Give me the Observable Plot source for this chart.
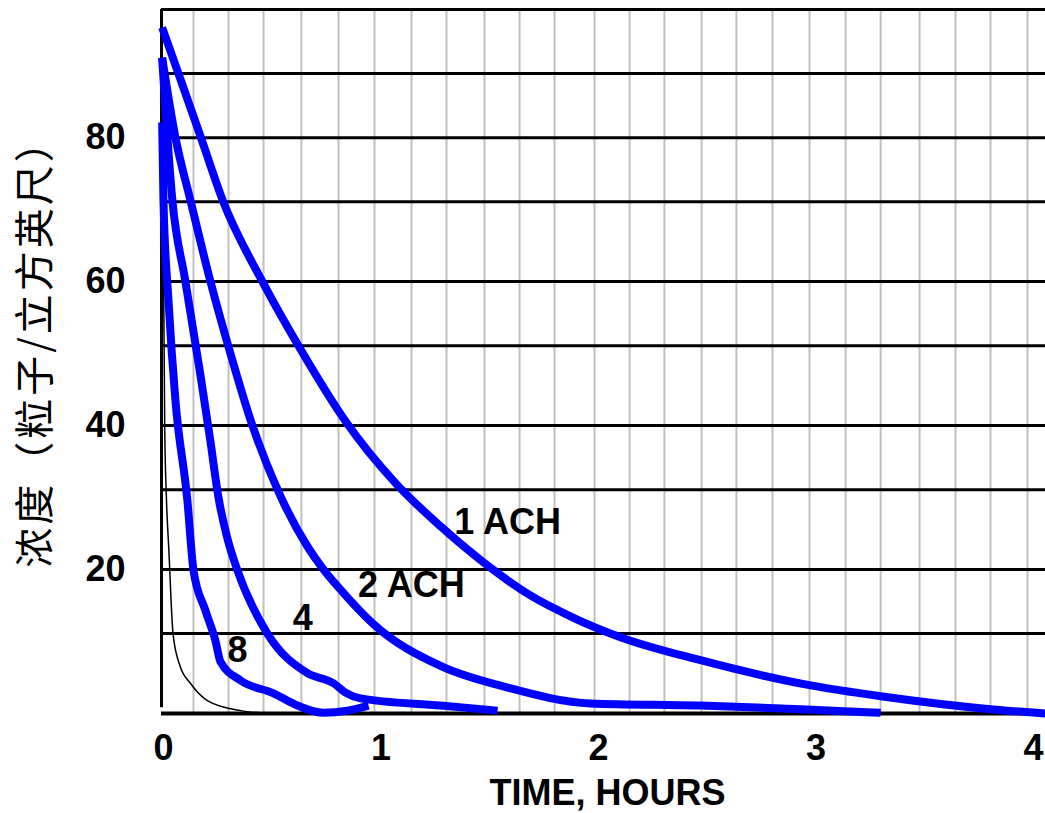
<!DOCTYPE html>
<html>
<head>
<meta charset="utf-8">
<script src="https://cdn.jsdelivr.net/npm/d3@7"></script>
<script src="https://cdn.jsdelivr.net/npm/@observablehq/plot@0.6"></script>
<style>
  html, body { margin: 0; padding: 0; background: #fff; }
</style>
</head>
<body>
<div id="chart"></div>
<script>
// ---- data (hours, particles per cubic foot) ----
const xTicks = [0, 1, 2, 3, 4];
const yTicks = [20, 40, 60, 80];
const hGrid = [11.1, 20, 31.1, 40, 51.1, 60, 71.1, 80, 88.9, 97.8];
const vGrid = [0.138, 0.299, 0.460, 0.634, 0.805, 0.970, 1.140, 1.301, 1.476, 1.637, 1.798, 1.982,
               2.143, 2.303, 2.474, 2.634, 2.800, 2.970, 3.136, 3.297, 3.476, 3.641, 3.802, 3.972];

const ach1X = [-0.006, 0.069, 0.170, 0.276, 0.455, 0.630, 0.837, 1.067, 1.274, 1.467, 1.687, 1.885, 2.101, 2.469, 2.975, 3.297, 3.802, 4.055];
const ach1Y = [95.3, 88.9, 80.2, 71.0, 60.0, 50.6, 40.6, 32.0, 26.0, 21.1, 16.4, 13.3, 10.6, 7.4, 3.9, 2.4, 0.6, 0.0];

const ach2X = [-0.006, 0.055, 0.124, 0.216, 0.308, 0.409, 0.538, 0.662, 0.731, 0.814, 0.966, 1.274, 1.582, 1.963, 2.469, 2.929, 3.297];
const ach2Y = [91.1, 80.0, 71.3, 60.0, 50.0, 40.0, 30.2, 23.2, 20.2, 17.2, 12.4, 6.6, 3.6, 1.4, 1.1, 0.6, 0.1];

const ach4X = [-0.006, 0.041, 0.101, 0.170, 0.215, 0.253, 0.295, 0.340, 0.478, 0.662, 0.782, 0.837, 0.906, 1.274, 1.536];
const ach4Y = [91.1, 71.3, 60.0, 47.0, 38.0, 30.0, 24.2, 19.9, 11.1, 5.6, 4.2, 2.9, 2.1, 1.1, 0.4];

const ach8X = [-0.006, 0.000, 0.023, 0.055, 0.110, 0.138, 0.193, 0.239, 0.262, 0.354, 0.506, 0.616, 0.736, 0.846, 0.943];
const ach8Y = [82.1, 71.3, 57.4, 43.5, 29.6, 19.9, 14.3, 10.1, 7.2, 4.6, 2.8, 1.1, 0.1, 0.4, 1.1];

const thinX = [-0.002, 0.002, 0.006, 0.014, 0.025, 0.044, 0.075, 0.124, 0.202, 0.354, 0.446];
const thinY = [75, 55, 39.3, 29.6, 22.6, 11.1, 6.7, 4.2, 1.8, 0.4, 0.1];

const labelText = ["1 ACH", "2 ACH", "4", "8"];
const labelX = [1.582, 1.140, 0.641, 0.340];
const labelY = [26.5, 17.8, 13.2, 8.75];

const yTitle = "浓度（粒子/立方英尺）";
const xTitle = "TIME, HOURS";

// ---- build tables ----
const toRows = (xs, ys, s) => xs.map((x, i) => ({x, y: ys[i], s}));
const blue = [
  ...toRows(ach1X, ach1Y, "1"),
  ...toRows(ach2X, ach2Y, "2"),
  ...toRows(ach4X, ach4Y, "4"),
  ...toRows(ach8X, ach8Y, "8")
];
const thin = toRows(thinX, thinY, "t");
const labels = labelText.map((t, i) => ({t, x: labelX[i], y: labelY[i]}));

const xMin = -0.009, xMax = 4.055, yMax = 97.8;

const chart = Plot.plot({
  width: 1045,
  height: 813,
  marginLeft: 161,
  marginRight: 0,
  marginTop: 9,
  marginBottom: 100,
  style: {fontFamily: "'Liberation Sans', Arial, sans-serif", background: "#fff", overflow: "visible"},
  x: {domain: [xMin, xMax]},
  y: {domain: [0, yMax]},
  marks: [
    Plot.ruleX(vGrid, {stroke: "#c0c0c0", strokeWidth: 2, y1: 0, y2: yMax}),
    Plot.ruleY(hGrid, {stroke: "#000", strokeWidth: 3, x1: xMin, x2: xMax}),
    Plot.ruleX([xMin], {stroke: "#000", strokeWidth: 3, y1: 0.8, y2: yMax}),
    Plot.ruleY([0], {stroke: "#000", strokeWidth: 4, x1: xMin, x2: xMax}),
    Plot.axisX(xTicks, {tickSize: 0, tickPadding: 21, tickFormat: d3.format("d"), fontSize: 36, fontWeight: "bold", fill: "#000", label: null}),
    Plot.axisY(yTicks, {tickSize: 0, tickPadding: 36, tickFormat: d3.format("d"), fontSize: 36, fontWeight: "bold", fill: "#000", label: null}),
    Plot.line(thin, {x: "x", y: "y", stroke: "#000", strokeWidth: 1.5, curve: "monotone-x"}),
    Plot.line(blue, {x: "x", y: "y", z: "s", stroke: "#0000ff", strokeWidth: 8, curve: "monotone-x", strokeLinecap: "butt", strokeLinejoin: "round"}),
    Plot.text(labels, {x: "x", y: "y", text: "t", fontSize: 36, fontWeight: "bold", fill: "#000", textAnchor: "middle", lineAnchor: "middle"}),
    Plot.text([xTitle], {frameAnchor: "bottom", dx: 4, dy: 80, fontSize: 36, fontWeight: "bold", fill: "#000", lineAnchor: "middle"}),
    Plot.text([yTitle], {frameAnchor: "left", dx: -125, dy: -18, rotate: -90, fontSize: 40, fontFamily: "'Noto Sans CJK SC', sans-serif", fill: "#000", lineAnchor: "middle", textAnchor: "middle"})
  ]
});
d3.select(chart).selectAll("text")
  .filter(function() { return this.textContent === yTitle; })
  .attr("letter-spacing", "3px");
document.getElementById("chart").appendChild(chart);
</script>
</body>
</html>
